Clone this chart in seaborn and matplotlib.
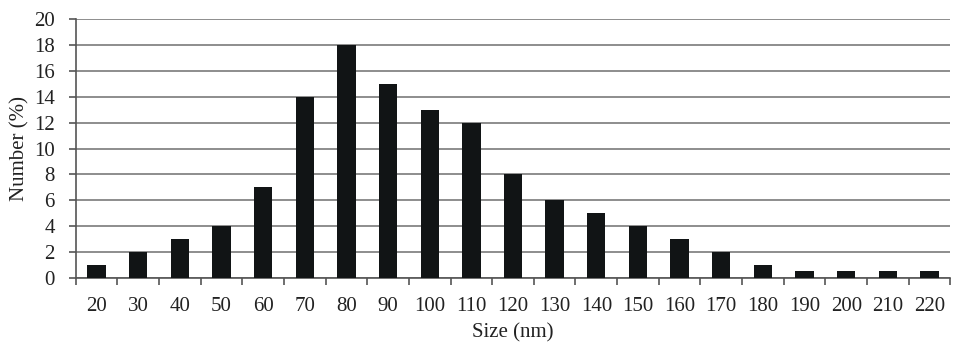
import matplotlib
matplotlib.use("Agg")
import matplotlib.pyplot as plt
import seaborn as sns
import pandas as pd
import numpy as np
from matplotlib.ticker import FixedLocator

sizes = ["20", "30", "40", "50", "60", "70", "80", "90", "100", "110", "120",
         "130", "140", "150", "160", "170", "180", "190", "200", "210", "220"]
numbers = [1, 2, 3, 4, 7, 14, 18, 15, 13, 12, 8, 6, 5, 4, 3, 2, 1, 0.5, 0.5, 0.5, 0.5]
yticks = [0, 2, 4, 6, 8, 10, 12, 14, 16, 18, 20]

df = pd.DataFrame({"Size": sizes, "Number": numbers})

sns.set_theme(style="white")
plt.rcParams["font.family"] = ["Liberation Serif", "DejaVu Serif"]

fig = plt.figure(figsize=(9.58, 3.47), dpi=100)
ax = fig.add_axes([0.079, 0.199, 0.913, 0.746])

sns.barplot(data=df, x="Size", y="Number", color="#111415", width=0.44,
            saturation=1, linewidth=0, ax=ax, zorder=3)

ax.set_ylim(0, 20)
ax.set_xlim(-0.5, len(sizes) - 0.5)
ax.set_yticks(yticks)
ax.yaxis.grid(True, color="#7a7a7a", linewidth=1.2, zorder=0)
ax.set_axisbelow(True)

for s in ["top", "right"]:
    ax.spines[s].set_visible(False)
ax.spines["left"].set_color("#555555")
ax.spines["bottom"].set_color("#555555")
ax.spines["left"].set_linewidth(1.2)
ax.spines["bottom"].set_linewidth(1.2)

fs = 15
ax.xaxis.set_minor_locator(FixedLocator(np.arange(-0.5, len(sizes), 1.0)))
ax.tick_params(axis="x", which="major", length=0, pad=14, labelsize=fs, colors="#222222")
ax.tick_params(axis="x", which="minor", length=5, width=1.2, color="#555555", direction="out", bottom=True)
ax.tick_params(axis="y", which="major", length=5, width=1.2, color="#555555", direction="out",
               left=True, labelsize=fs, labelcolor="#222222", pad=10)

ax.set_xlabel("Size (nm)", fontsize=fs, color="#222222", labelpad=5)
ax.set_ylabel("Number (%)", fontsize=fs, color="#222222", labelpad=3)

fig.savefig("out.png", dpi=100, facecolor="white")
